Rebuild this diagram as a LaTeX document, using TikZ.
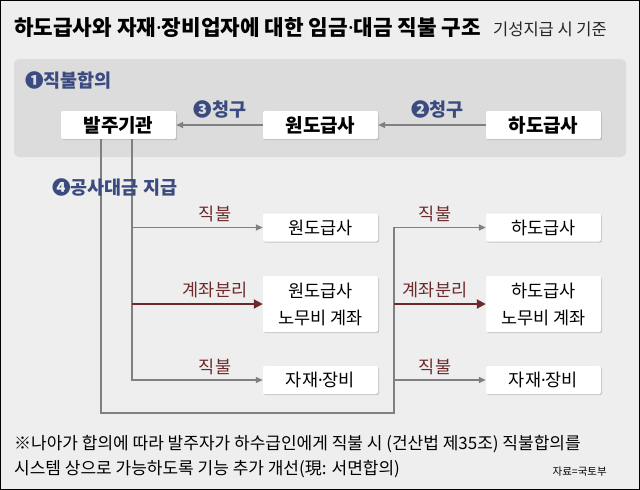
\documentclass[tikz,border=0pt]{standalone}
\usepackage{fontspec}
\setmainfont{Noto Sans CJK KR}
\newfontfamily\dotf{Noto Sans}
\newcommand\kdot{{\dotf ·}}
\usetikzlibrary{arrows.meta,shadows}
\definecolor{bgc}{HTML}{EEEEEE}
\definecolor{panelc}{HTML}{DCDCDC}
\definecolor{navyc}{HTML}{3B4A7F}
\definecolor{redc}{HTML}{6E2A2A}
\definecolor{linec}{HTML}{808080}
\tikzset{
  wbox/.style={fill=white, rounded corners=2pt, minimum width=115pt, minimum height=28pt,
    inner sep=0pt, align=center, drop shadow={shadow xshift=1pt, shadow yshift=-1.2pt, opacity=0.35}},
  topfont/.style={font=\bfseries\fontsize{19}{20}\selectfont},
  lowfont/.style={font=\fontsize{17.5}{27}\selectfont},
  navylbl/.style={text=navyc, font=\bfseries\fontsize{18.5}{20}\selectfont, inner sep=0pt},
  redlbl/.style={text=redc, font=\fontsize{17.5}{20}\selectfont, inner sep=0pt},
  gline/.style={draw=linec, line width=1.4pt, -{Triangle[length=7pt,width=6pt]}},
  rline/.style={draw=redc, line width=2pt, -{Triangle[length=9pt,width=9pt]}},
}
\begin{document}
\begin{tikzpicture}[x=1pt,y=-1pt]
\useasboundingbox (0,0) rectangle (640,490);
\fill[bgc] (0,0) rectangle (640,490);
\draw[black,line width=1.2pt] (0.6,0.6) rectangle (639.4,489.4);
% title
\node[anchor=base west, inner sep=0pt, font=\bfseries\fontsize{21.3}{24}\selectfont] (title) at (14,35) {하도급사와 자재\kdot 장비업자에 대한 임금\kdot 대금 직불 구조};
\node[anchor=base east, inner sep=0pt, text=black!85, font=\fontsize{16.5}{18}\selectfont] (subtitle) at (607,35) {기성지급 시 기준};
% panel
\fill[panelc, rounded corners=5pt] (14,59) rectangle (626,157);
\node[navylbl, anchor=west] (agree) at (25,80) {❶직불합의};
% top row
\node[wbox, topfont] (bal) at (118.5,125) {발주기관};
\node[wbox, topfont] (won) at (320.5,125) {원도급사};
\node[wbox, topfont] (ha) at (543.5,125) {하도급사};
\draw[gline] (won.west) -- (bal.east);
\draw[gline] (ha.west) -- (won.east);
\node[navylbl] (req3) at (220,109) {❸청구};
\node[navylbl] (req2) at (437.5,109) {❷청구};
% lower boxes
\node[wbox, lowfont] (won2) at (320.5,227.5) {원도급사};
\node[wbox, lowfont, minimum height=56pt] (wonacct) at (320.5,304) {원도급사\\노무비 계좌};
\node[wbox, lowfont] (mat1) at (320.5,380) {자재\kdot 장비};
\node[wbox, lowfont] (ha2) at (543.5,227.5) {하도급사};
\node[wbox, lowfont, minimum height=56pt] (haacct) at (543.5,304) {하도급사\\노무비 계좌};
\node[wbox, lowfont] (mat2) at (543.5,380) {자재\kdot 장비};
% connector coordinates
\coordinate (outer0) at ([xshift=-17.5pt]bal.south);
\coordinate (inner0) at ([xshift=13.5pt]bal.south);
\coordinate (corner) at (394,413);
% outer loop to right column
\draw[gline] (outer0) |- (corner) |- (ha2.west);
% inner column
\draw[gline] (inner0) |- (mat1.west);
\draw[gline] (inner0) |- (won2.west);
\draw[rline] (inner0 |- wonacct.west) -- (wonacct.west);
% right column branches
\draw[rline] (corner |- haacct.west) -- (haacct.west);
\draw[gline] (corner |- mat2.west) -- (mat2.west);
% payment label (over the lines)
\node[navylbl, anchor=west] (pay) at (52,187) {❹공사대금 지급};
% labels
\node[redlbl] (l1) at (215,214) {직불};
\node[redlbl] (l2) at (215,290) {계좌분리};
\node[redlbl] (l3) at (215,367) {직불};
\node[redlbl] (r1) at (435,214) {직불};
\node[redlbl] (r2) at (435,290) {계좌분리};
\node[redlbl] (r3) at (435,367) {직불};
% footnote
\node[anchor=base west, inner sep=0pt, font=\fontsize{17}{18}\selectfont] (fn1) at (14,449) {※나아가 합의에 따라 발주자가 하수급인에게 직불 시 (건산법 제35조) 직불합의를};
\node[anchor=base west, inner sep=0pt, font=\fontsize{17}{18}\selectfont] (fn2) at (14,474) {시스템 상으로 가능하도록 기능 추가 개선(現: 서면합의)};
\node[anchor=base east, inner sep=0pt, font=\fontsize{10.5}{13}\selectfont] (src) at (607,475) {자료=국토부};
\end{tikzpicture}
\end{document}
